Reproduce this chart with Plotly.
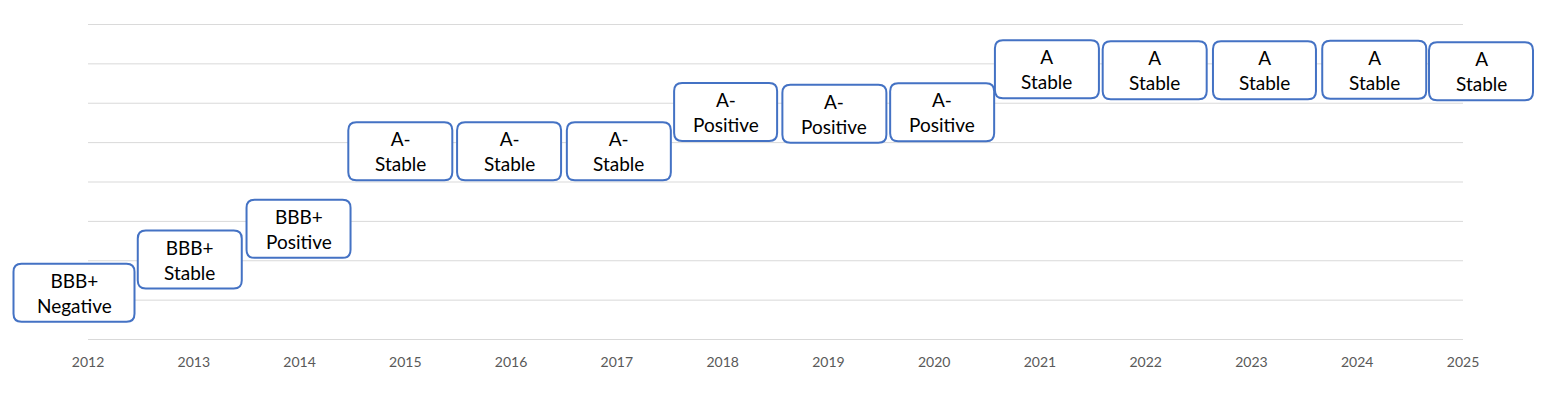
import plotly.graph_objects as go

# ---- data ----
years = [2012, 2013, 2014, 2015, 2016, 2017, 2018, 2019, 2020, 2021, 2022, 2023, 2024, 2025]
ratings = ["BBB+", "BBB+", "BBB+", "A-", "A-", "A-", "A-", "A-", "A-", "A", "A", "A", "A", "A"]
outlooks = ["Negative", "Stable", "Positive", "Stable", "Stable", "Stable", "Positive", "Positive",
            "Positive", "Stable", "Stable", "Stable", "Stable", "Stable"]
scores = [1.19, 2.03, 2.81, 4.78, 4.78, 4.78, 5.78, 5.73, 5.77, 6.86, 6.84, 6.84, 6.85, 6.81]
grid_levels = [0, 1, 2, 3, 4, 5, 6, 7, 8]

# ---- layout helpers (label placement, not data) ----
label_dx = [-14, -4, -1, -5, -2, 2, 3, 6, 8, 7, 9, 13, 17, 18]
box_w = [121, 104, 104, 104, 104, 104, 103, 104, 104, 104, 104, 103, 104, 104]
box_h = 58
radius = 8
x_range = [2012, 2025]
y_range = [-0.012, 8.012]

BLUE = "#4472C4"
GRID = "#D9D9D9"


def rounded_rect(cx, w, h, r):
    x0, x1 = cx - w / 2, cx + w / 2
    y0, y1 = -h / 2, h / 2
    return (f"M {x0 + r},{y0} L {x1 - r},{y0} Q {x1},{y0} {x1},{y0 + r} "
            f"L {x1},{y1 - r} Q {x1},{y1} {x1 - r},{y1} "
            f"L {x0 + r},{y1} Q {x0},{y1} {x0},{y1 - r} "
            f"L {x0},{y0 + r} Q {x0},{y0} {x0 + r},{y0} Z")


fig = go.Figure()
# invisible trace to establish axes
fig.add_trace(go.Scatter(x=years, y=scores, mode="markers",
                         marker=dict(opacity=0), hoverinfo="skip", showlegend=False))

shapes = []
# horizontal gridlines (drawn explicitly so the edge lines also appear)
for g in grid_levels:
    shapes.append(dict(type="line", xref="x domain", yref="y", x0=0, x1=1, y0=g, y1=g,
                       line=dict(color=GRID, width=1), layer="below"))

annotations = []
for yr, rt, ol, sc, dx, w in zip(years, ratings, outlooks, scores, label_dx, box_w):
    fx = (yr - x_range[0]) / (x_range[1] - x_range[0])
    fy = (sc - y_range[0]) / (y_range[1] - y_range[0])
    shapes.append(dict(
        type="path", xref="x domain", yref="y domain",
        xsizemode="pixel", ysizemode="pixel", xanchor=fx, yanchor=fy,
        path=rounded_rect(dx, w, box_h, radius),
        line=dict(color=BLUE, width=2), fillcolor="white", layer="above"))
    annotations.append(dict(
        x=yr, y=sc, xref="x", yref="y", xshift=dx, yshift=0,
        text=f"{rt}<br>{ol}", showarrow=False, align="center",
        font=dict(family="Lato", size=19, color="#000000")))

fig.update_layout(
    width=1529, height=390,
    margin=dict(l=80, r=74, t=16, b=58),
    paper_bgcolor="white", plot_bgcolor="white",
    shapes=shapes, annotations=annotations,
    showlegend=False,
    xaxis=dict(range=x_range, tickmode="array", tickvals=years,
               ticktext=[str(y) for y in years], showgrid=False, zeroline=False,
               showline=False, ticks="", ticklabelstandoff=12,
               tickfont=dict(family="Lato", size=14, color="#595959")),
    yaxis=dict(range=y_range, showgrid=False,
               zeroline=False, showticklabels=False, showline=False, ticks=""),
)

fig.write_html("out.html")
